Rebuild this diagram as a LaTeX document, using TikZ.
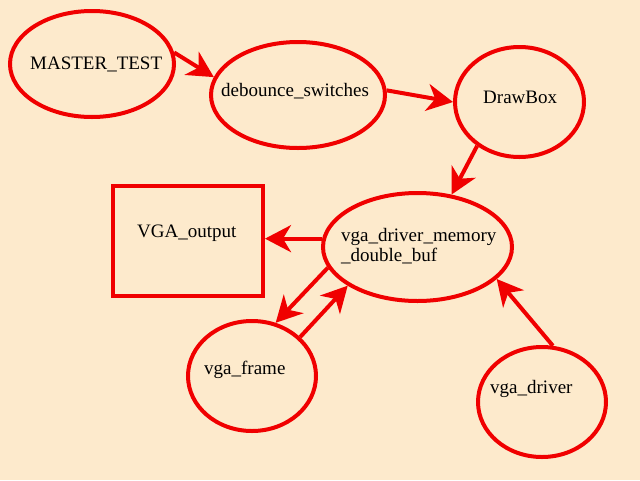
\documentclass[tikz,border=0pt]{standalone}
\usepackage{fontspec}
\setmainfont{Liberation Serif}
\usepackage{tikz}
\usetikzlibrary{shapes.geometric}
\usetikzlibrary{arrows.meta}
\definecolor{peach}{RGB}{253,234,204}
\definecolor{boxred}{RGB}{240,0,0}

\begin{document}
\begin{tikzpicture}[x=1pt,y=-1pt,
  blob/.style={ellipse,draw=boxred,line width=4pt,inner sep=0pt},
  lbl/.style={anchor=base west,inner sep=0pt,font=\fontsize{19}{22}\selectfont},
  flow/.style={draw=boxred,line width=4pt,-{Stealth[length=26pt,width=27pt,inset=8pt]}}]
\fill[peach] (0,0) rectangle (640,480);
\useasboundingbox (0,0) rectangle (640,480);
% modules
\node[blob,minimum width=164pt,minimum height=106pt] (master) at (92,64) {};
\node[blob,minimum width=174pt,minimum height=106pt] (debounce) at (298,95) {};
\node[blob,minimum width=129pt,minimum height=110pt] (drawbox) at (519.5,102) {};
\node[blob,minimum width=189pt,minimum height=108pt] (vgamem) at (417.5,247) {};
\node[blob,minimum width=128pt,minimum height=110pt] (vgaframe) at (252,376) {};
\node[blob,minimum width=128pt,minimum height=110pt] (vgadriver) at (542,402) {};
\node[draw=boxred,line width=4pt,minimum width=150pt,minimum height=110pt] (vgaout) at (188,241) {};
% names
\node[lbl] (tmaster) at (30,69) {MASTER\_TEST};
\node[lbl] (tdebounce) at (221,96) {debounce\_switches};
\node[lbl] (tdrawbox) at (483,103) {DrawBox};
\node[lbl] (tvgaout) at (137,237) {VGA\_output};
\node[lbl] (tvgamem) at (341,241) {vga\_driver\_memory};
\node[lbl] (tvgamemb) at (341,261) {\_double\_buf};
\node[lbl] (tvgaframe) at (204,374) {vga\_frame};
\node[lbl] (tvgadriver) at (490,393) {vga\_driver};
% connections
\draw[flow] (master.8) -- (debounce.168);
\draw[flow] (debounce.3) -- (drawbox.180);
\draw[flow] (drawbox.226) -- (vgamem.57);
\draw[flow] (vgamem.175) -- (vgamem.175 -| vgaout.east);
\draw[flow] (vgamem.193.5) -- (vgaframe.66);
\draw[flow] (vgaframe.39) -- (vgamem.209.5);
\draw[flow] (vgadriver.79) -- (vgamem.-22);
\end{tikzpicture}
\end{document}
